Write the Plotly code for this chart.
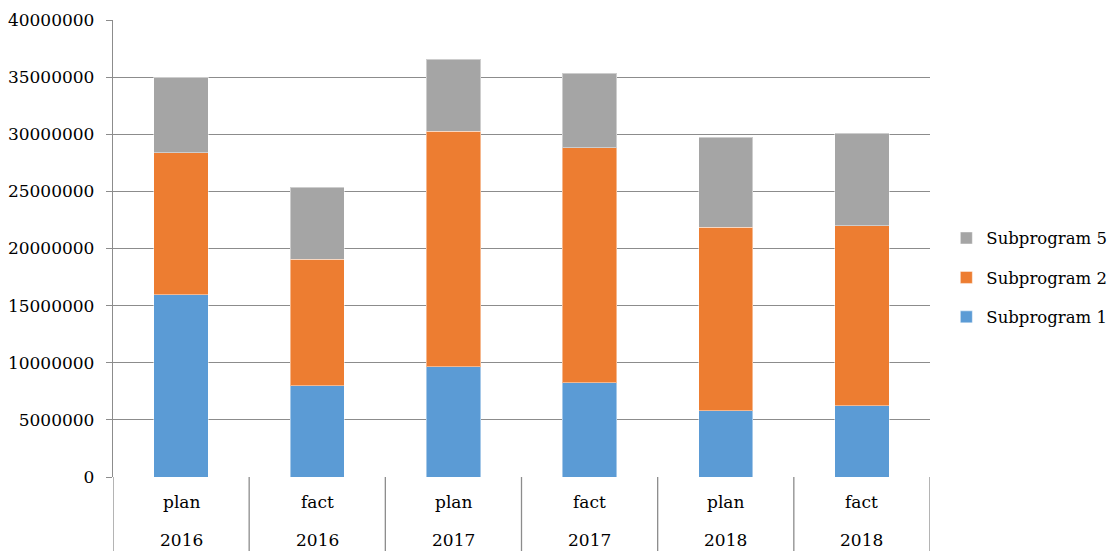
import plotly.graph_objects as go

# Plan / fact columns, one per year
stages = ["plan", "fact", "plan", "fact", "plan", "fact"]
years = ["2016", "2016", "2017", "2017", "2018", "2018"]

# Funding by subprogram (stacked)
subprogram_1 = [15950000, 7970000, 9630000, 8260000, 5810000, 6250000]
subprogram_2 = [12450000, 11090000, 20620000, 20580000, 16030000, 15760000]
subprogram_5 = [6600000, 6280000, 6300000, 6510000, 7880000, 8060000]

y_ticks = list(range(0, 40000001, 5000000))

columns = [f"{s} {y}" for s, y in zip(stages, years)]
FONT = "DejaVu Serif"
FS = 17

fig = go.Figure()
series = [
    ("Subprogram 1", subprogram_1, "#5B9BD5", 3),
    ("Subprogram 2", subprogram_2, "#ED7D31", 2),
    ("Subprogram 5", subprogram_5, "#A5A5A5", 1),
]
for name, vals, color, rank in series:
    fig.add_trace(go.Bar(
        x=columns, y=vals, name=name, legendgroup=name, legendrank=rank,
        marker=dict(color=color, line=dict(color="rgba(255,255,255,0.45)", width=1)),
    ))

# Two-row category labels below the axis
for col, s, y in zip(columns, stages, years):
    fig.add_annotation(x=col, xref="x", y=-0.055, yref="paper", text=s,
                       showarrow=False, yanchor="middle",
                       font=dict(family=FONT, size=FS, color="#000"))
    fig.add_annotation(x=col, xref="x", y=-0.138, yref="paper", text=y,
                       showarrow=False, yanchor="middle",
                       font=dict(family=FONT, size=FS, color="#000"))

# Dividers between the category cells
for i in range(len(columns) + 1):
    fig.add_shape(type="line", xref="x", yref="paper",
                  x0=i - 0.5, x1=i - 0.5, y0=0, y1=-0.2,
                  line=dict(color="#8c8c8c", width=1.3))

fig.update_layout(
    width=1110, height=551,
    margin=dict(l=113, r=180, t=20, b=74, autoexpand=False),
    paper_bgcolor="white", plot_bgcolor="white",
    barmode="stack", bargap=0.6,
    font=dict(family=FONT, size=FS, color="#000"),
    showlegend=True,
    legend=dict(
        traceorder="grouped", tracegroupgap=15,
        x=1.02, y=0.436, xanchor="left", yanchor="middle",
        font=dict(family=FONT, size=16.5, color="#000"),
        itemwidth=30,
    ),
    xaxis=dict(
        showticklabels=False, showgrid=False, zeroline=False,
        showline=False, ticks="", range=[-0.5, 5.5],
    ),
    yaxis=dict(
        range=[0, 40000000], tickvals=y_ticks, ticktext=[str(v) for v in y_ticks],
        showgrid=True, gridcolor="#8c8c8c", gridwidth=1.3,
        zeroline=False, showline=True, linecolor="#8c8c8c", linewidth=1.3,
        ticks="outside", ticklen=6, tickcolor="#8c8c8c", tickwidth=1.3,
        tickfont=dict(family=FONT, size=FS, color="#000"),
        ticklabelstandoff=8,
    ),
)

fig.write_html("out.html")
